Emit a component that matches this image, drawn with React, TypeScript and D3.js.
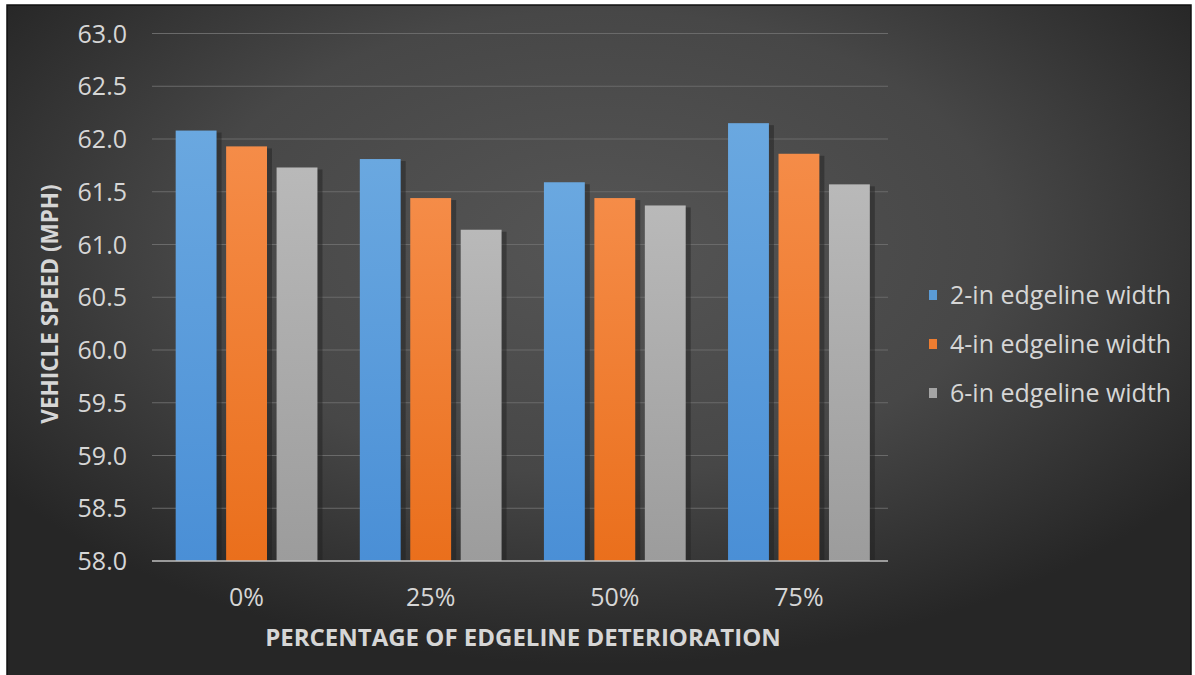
import React from "react";
import * as d3 from "d3";

const categories = ["0%", "25%", "50%", "75%"];
const seriesNames = ["2-in edgeline width", "4-in edgeline width", "6-in edgeline width"];
const series2in = [62.08, 61.81, 61.59, 62.15];
const series4in = [61.93, 61.44, 61.44, 61.86];
const series6in = [61.73, 61.14, 61.37, 61.57];
const yTicks = [58.0, 58.5, 59.0, 59.5, 60.0, 60.5, 61.0, 61.5, 62.0, 62.5, 63.0];

const seriesValues = [series2in, series4in, series6in];
const colorsTop = ["#6aa8e0", "#f58c48", "#b9b9b9"];
const colorsBottom = ["#4a8fd6", "#ea6f1c", "#9c9c9c"];
const legendColors = ["#5b9bd5", "#ed7d31", "#a5a5a5"];

const W = 1195;
const H = 675;
const FONT = "'Open Sans', Lato, sans-serif";
const TXT = "#d6d6d6";

export default function App() {
  const y = d3.scaleLinear().domain([58, 63]).range([561, 33.5]);
  const x = d3.scaleBand<string>().domain(categories).range([154.5, 891]).paddingInner(0.23).paddingOuter(0.115);
  const xs = d3.scaleBand<number>().domain([0, 1, 2]).range([0, x.bandwidth()]).paddingInner(0.19);
  const gridX0 = 152;
  const gridX1 = 888;

  return (
    <svg width={W} height={H} style={{ position: "absolute", left: 0, top: 0 }}>
      <defs>
        <radialGradient id="bg" cx="0.5" cy="0.35" r="0.62" fx="0.5" fy="0.35">
          <stop offset="0" stopColor="#555555" />
          <stop offset="0.55" stopColor="#474747" />
          <stop offset="1" stopColor="#262626" />
        </radialGradient>
        {colorsTop.map((c, i) => (
          <linearGradient key={i} id={`bar${i}`} x1="0" y1="0" x2="0" y2="1">
            <stop offset="0" stopColor={c} />
            <stop offset="1" stopColor={colorsBottom[i]} />
          </linearGradient>
        ))}
      </defs>
      <rect x={0} y={0} width={W} height={H} fill="#ffffff" />
      <rect x={7} y={5} width={1184} height={680} fill="url(#bg)" stroke="#111" strokeWidth={1.5} />

      {yTicks.map((t) => (
        <g key={t}>
          {t > 58 && (
            <line x1={gridX0} x2={gridX1} y1={y(t)} y2={y(t)} stroke="#6a6a6a" strokeWidth={1} />
          )}
          <text x={127} y={y(t)} dy="0.36em" textAnchor="end" fill={TXT} fontSize={25} fontFamily={FONT}>
            {t.toFixed(1)}
          </text>
        </g>
      ))}

      {categories.map((c, ci) => (
        <g key={c} transform={`translate(${x(c)},0)`}>
          {seriesValues.map((vals, si) => {
            const bx = xs(si)!;
            const top = y(vals[ci]);
            const bw = xs.bandwidth();
            return (
              <g key={si}>
                <rect x={bx + 2} y={top + 2} width={bw + 3} height={y(58) - top - 2} fill="#1e1e1e" opacity={0.45} />
                <rect x={bx} y={top} width={bw} height={y(58) - top} fill={`url(#bar${si})`} />
              </g>
            );
          })}
          <text x={x.bandwidth() / 2} y={597} dy="0.36em" textAnchor="middle" fill={TXT} fontSize={25} fontFamily={FONT}>
            {c}
          </text>
        </g>
      ))}

      <line x1={gridX0} x2={gridX1} y1={y(58)} y2={y(58)} stroke="#bfbfbf" strokeWidth={1.5} />

      <text x={523} y={637} dy="0.36em" textAnchor="middle" fill={TXT} fontSize={24} fontWeight="bold" fontFamily={FONT}>
        PERCENTAGE OF EDGELINE DETERIORATION
      </text>
      <text
        transform={`translate(50,${304}) rotate(-90)`}
        dy="0.36em"
        textAnchor="middle"
        fill={TXT}
        fontSize={22.5}
        fontWeight="bold"
        fontFamily={FONT}
      >
        VEHICLE SPEED (MPH)
      </text>

      {seriesNames.map((n, i) => (
        <g key={n} transform={`translate(929,${295 + i * 49})`}>
          <rect x={0} y={-5} width={8} height={10} fill={legendColors[i]} />
          <text x={21} y={0} dy="0.36em" fill={TXT} fontSize={25} fontFamily={FONT}>
            {n}
          </text>
        </g>
      ))}
    </svg>
  );
}
